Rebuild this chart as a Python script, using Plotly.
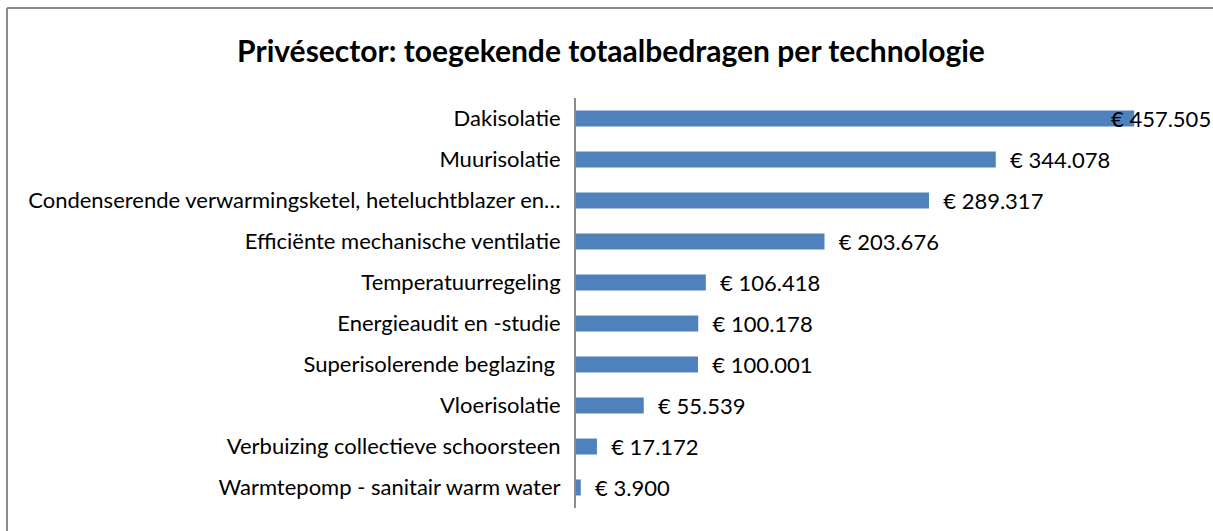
import plotly.graph_objects as go

categories = [
    "Dakisolatie",
    "Muurisolatie",
    "Condenserende verwarmingsketel, heteluchtblazer en…",
    "Efficiënte mechanische ventilatie",
    "Temperatuurregeling",
    "Energieaudit en -studie",
    "Superisolerende beglazing ",
    "Vloerisolatie",
    "Verbuizing collectieve schoorsteen",
    "Warmtepomp - sanitair warm water",
]
values = [457505, 344078, 289317, 203676, 106418, 100178, 100001, 55539, 17172, 3900]

FONT = "Lato"
positions = ["none"] + ["outside"] * (len(values) - 1)

fig = go.Figure(
    go.Bar(
        x=values,
        y=categories,
        orientation="h",
        marker=dict(color="#4F81BD", line=dict(width=0)),
        texttemplate="  € %{x:,.0f}",
        textposition=positions,
        constraintext="none",
        textfont=dict(family=FONT, size=22, color="#000000"),
        cliponaxis=False,
        hoverinfo="skip",
    )
)

fig.add_annotation(
    x=values[0], y=categories[0], xref="x", yref="y",
    text=f"€ {values[0]:,.0f}".replace(",", "."),
    showarrow=False, xanchor="left", xshift=-25,
    font=dict(family=FONT, size=22, color="#000000"),
)

# chart border: only top and left edges are visible in the reference crop
border = dict(color="#8c8c8c", width=2)
fig.add_shape(type="line", xref="paper", yref="paper",
              x0=-0.9328, x1=1.1, y0=1.2195, y1=1.2195, line=border, layer="below")
fig.add_shape(type="line", xref="paper", yref="paper",
              x0=-0.9328, x1=-0.9328, y0=-0.2, y1=1.2195, line=border, layer="below")

fig.update_layout(
    width=1213, height=531,
    margin=dict(l=576, r=27, t=98, b=23, autoexpand=False),
    paper_bgcolor="white", plot_bgcolor="white",
    separators=",.",
    bargap=0.61,
    showlegend=False,
    title=dict(
        text="<b>Privésector: toegekende totaalbedragen per technologie</b>",
        x=611 / 1213, xref="container", xanchor="center",
        y=1 - 51 / 531, yref="container", yanchor="middle",
        font=dict(family=FONT, size=30, color="#000000"),
    ),
    xaxis=dict(range=[0, 500000], visible=False, fixedrange=True),
    yaxis=dict(
        autorange="reversed",
        showline=True, linecolor="#8c8c8c", linewidth=2,
        ticks="", showgrid=False, zeroline=False,
        ticklabelstandoff=9,
        tickfont=dict(family=FONT, size=22, color="#000000"),
        fixedrange=True,
    ),
)

fig.write_html(
    "out.html",
    config={"displayModeBar": False},
    post_script="document.body.style.margin='0px';",
)
